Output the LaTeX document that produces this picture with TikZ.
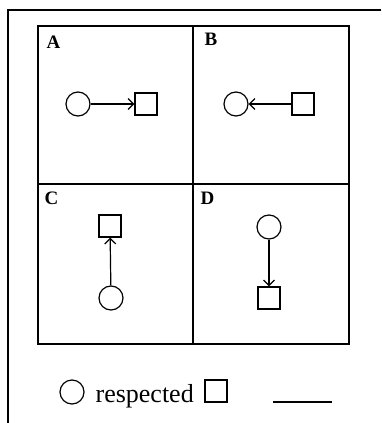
\documentclass[tikz,border=0pt]{standalone}
\usepackage{fontspec}
\setmainfont{Liberation Serif}
\usetikzlibrary{arrows.meta}
\begin{document}
\begin{tikzpicture}[x=1pt,y=-1pt,line width=1.2pt,
    ring/.style={draw,circle,minimum size=24pt,inner sep=0pt},
    box/.style={draw,rectangle,minimum size=22pt,inner sep=0pt},
    tag/.style={anchor=base west,inner sep=0pt,font=\fontsize{19}{19}\selectfont\bfseries},
    link/.style={-{Straight Barb[length=5.5pt,width=11pt]}}]
    \useasboundingbox (0,0) rectangle (381,423);
    % frame and panels
    \draw (381,10) -- (8,10) -- (8,423);
    \draw (38,26) rectangle (349,344);
    \draw (193,26) -- (193,344);
    \draw (38,184) -- (349,184);
    \node[tag] (tagA) at (46,48) {A};
    \node[tag] (tagB) at (204,45) {B};
    \node[tag] (tagC) at (44,204) {C};
    \node[tag] (tagD) at (200,204) {D};
    % panel A
    \node[ring] (ringA) at (78,104) {};
    \node[box] (boxA) at (146,104) {};
    \draw[link] (ringA) -- (boxA);
    % panel B
    \node[ring] (ringB) at (236,104) {};
    \node[box] (boxB) at (303,104) {};
    \draw[link] (boxB) -- (ringB);
    % panel C
    \node[box] (boxC) at (110,226) {};
    \node[ring] (ringC) at (111,298) {};
    \draw[link] (ringC) -- (boxC);
    % panel D
    \node[ring] (ringD) at (269,227) {};
    \node[box] (boxD) at (269,298) {};
    \draw[link] (ringD) -- (boxD);
    % legend
    \node[ring] (ringL) at (72,392) {};
    \node[anchor=base west,inner sep=0pt,font=\fontsize{26}{26}\selectfont] (word) at (95,402) {respected};
    \node[box] (boxL) at (216,391) {};
    \coordinate (lineL) at (273,402);
    \coordinate (lineR) at (332,402);
    \draw (lineL) -- (lineR);
\end{tikzpicture}
\end{document}
